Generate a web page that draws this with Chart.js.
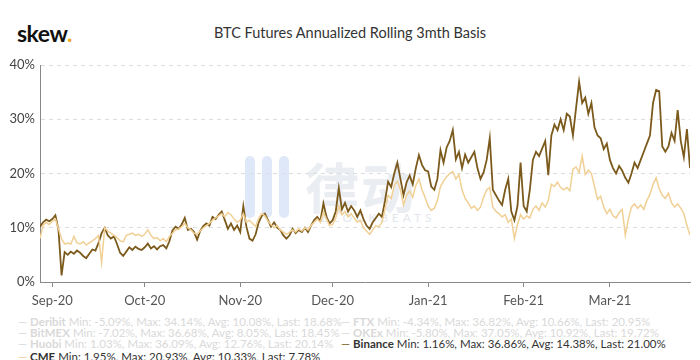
<!DOCTYPE html>
<html>
<head>
<meta charset="utf-8">
<script src="https://cdn.jsdelivr.net/npm/chart.js@4/dist/chart.umd.min.js"></script>
<style>
  body { margin: 0; width: 700px; height: 360px; overflow: hidden; background: #fff; position: relative; font-family: Lato, "Noto Sans", sans-serif; }
  #logo { position: absolute; left: 17px; top: 19px; font-size: 23px; font-weight: 700; color: #111; letter-spacing: -0.5px; }
  #logo span { color: #f0a820; }
  #title { position: absolute; left: 0; width: 700px; top: 24px; text-align: center; font-size: 14.5px; color: #333; }
  #wrap { position: absolute; left: 0; top: 0; width: 700px; height: 310px; z-index: 2; }
  #wm { position: absolute; left: 243px; top: 150px; width: 230px; height: 80px; z-index: 1; }
  #wm .bar { position: absolute; width: 10px; height: 62px; border-radius: 5px; background: #dfe8f8; top: 6px; }
  #wm .cn { position: absolute; left: 62px; top: -4px; font-family: "Noto Sans CJK SC"; font-size: 54px; font-weight: 700; color: #eaedf2; letter-spacing: 2px; }
  #wm .en { position: absolute; left: 78px; top: 60px; font-size: 12px; color: #e3e7ed; letter-spacing: 4px; }
  .row { position: absolute; white-space: nowrap; font-size: 11.5px; line-height: 12px; }
  .off { color: #d9d9d9; }
  .on { color: #333; }
  .row b { font-weight: 700; }
</style>
</head>
<body>
<div id="logo">skew<span>.</span></div>
<div id="title">BTC Futures Annualized Rolling 3mth Basis</div>
<div id="wm">
  <div class="bar" style="left:2px"></div>
  <div class="bar" style="left:19px"></div>
  <div class="bar" style="left:36px"></div>
  <div class="cn">律动</div>
  <div class="en">BLOCKBEATS</div>
</div>
<div id="wrap"><canvas id="myChart" width="700" height="310"></canvas></div>

<div class="row off" style="left:18px;top:316px">— <b>Deribit</b> Min: -5.09%, Max: 34.14%, Avg: 10.08%, Last: 18.68%</div>
<div class="row off" style="left:341px;top:316px">— <b>FTX</b> Min: -4.34%, Max: 36.82%, Avg: 10.66%, Last: 20.95%</div>
<div class="row off" style="left:18px;top:327px">— <b>BitMEX</b> Min: -7.02%, Max: 36.68%, Avg: 8.05%, Last: 18.45%</div>
<div class="row off" style="left:341px;top:327px">— <b>OKEx</b> Min: -5.80%, Max: 37.05%, Avg: 10.92%, Last: 19.72%</div>
<div class="row off" style="left:18px;top:338px">— <b>Huobi</b> Min: 1.03%, Max: 36.09%, Avg: 12.76%, Last: 20.14%</div>
<div class="row on" style="left:341px;top:338px"><span style="color:#7b5a1c">—</span> <b>Binance</b> Min: 1.16%, Max: 36.86%, Avg: 14.38%, Last: 21.00%</div>
<div class="row on" style="left:18px;top:351px"><span style="color:#f0d095">—</span> <b>CME</b> Min: 1.95%, Max: 20.93%, Avg: 10.33%, Last: 7.78%</div>

<script>
// daily values from 2020-08-28
var startDate = new Date(2020, 7, 28);

var binance = [
  10.2, 11.0, 11.5, 11.2, 11.6, 12.3, 9.6, 1.2, 5.5, 5.0,
  5.6, 5.2, 5.8, 5.4, 4.8, 4.4, 5.2, 6.0, 5.8, 7.2,
  9.0, 10.0, 8.6, 8.0, 8.4, 7.0, 5.4, 4.8, 5.6, 6.4,
  5.9, 6.5, 6.1, 5.9, 6.4, 7.1, 6.2, 6.6, 6.0, 6.6,
  6.8, 6.2, 7.5, 9.5, 10.2, 9.8, 10.6, 11.8, 9.6, 9.8,
  9.2, 7.8, 9.4, 10.3, 10.8, 10.4, 12.0, 11.6, 12.4, 13.0,
  11.4, 9.8, 10.8, 9.6, 10.4, 9.2, 14.0, 10.2, 8.0, 7.6,
  8.8, 11.0, 12.2, 12.6, 11.4, 10.2, 11.0, 10.0, 9.6, 8.6,
  8.0, 8.6, 9.8, 9.0, 9.6, 9.2, 10.0, 9.2, 10.4, 11.4,
  12.0, 11.2, 14.5, 12.0, 10.8, 11.4, 13.0, 17.3, 13.4, 14.6,
  13.0, 14.0, 13.2, 12.0, 13.2, 11.6, 10.4, 9.8, 11.0, 11.8,
  12.6, 12.0, 15.0, 18.5, 17.5, 20.0, 22.0, 19.0, 16.0, 18.4,
  19.6, 18.0, 21.0, 23.4, 21.6, 20.6, 20.4, 17.6, 17.0, 19.0,
  24.3, 22.0, 24.8, 26.0, 28.0, 22.6, 24.0, 21.0, 23.5, 22.0,
  23.0, 24.0, 21.0, 19.0, 20.2, 22.5, 26.5, 17.0, 16.0, 15.0,
  14.2, 17.0, 19.0, 13.0, 11.4, 14.0, 22.0, 14.0, 13.0, 17.0,
  22.5, 24.0, 23.2, 24.6, 26.0, 19.7, 27.0, 29.0, 28.0, 30.0,
  28.0, 31.0, 30.5, 27.0, 32.0, 36.9, 33.0, 34.0, 31.0, 33.0,
  28.5, 27.0, 26.5, 24.5, 25.5, 22.5, 21.0, 20.0, 21.4, 20.5,
  19.2, 18.3, 20.0, 22.0, 21.0, 22.5, 24.0, 25.5, 27.0, 33.0,
  35.4, 35.2, 25.0, 24.0, 25.0, 27.5, 26.0, 31.7, 26.0, 23.0,
  28.2, 21.0
];

var cme = [
  8.0, 10.4, 11.0, 10.6, 11.2, 11.6, 9.8, 8.0, 7.0, 7.2,
  7.0, 8.4, 7.2, 7.0, 7.4, 6.8, 7.2, 7.6, 8.0, 8.6,
  3.6, 10.0, 9.4, 9.0, 8.6, 8.2, 7.6, 7.4, 8.6, 8.8,
  9.0, 8.6, 8.8, 8.4, 8.8, 9.6, 8.6, 8.0, 8.2, 7.6,
  8.0, 7.4, 8.4, 9.0, 9.6, 9.8, 10.2, 10.8, 10.0, 9.6,
  9.0, 8.8, 9.4, 10.0, 10.4, 10.8, 11.4, 11.8, 12.2, 12.6,
  12.0, 12.8, 12.4, 11.6, 11.0, 11.4, 12.6, 11.0, 11.4, 10.8,
  10.2, 11.8, 12.6, 12.2, 11.2, 10.6, 10.0, 10.4, 9.6, 9.2,
  8.8, 9.2, 9.6, 9.2, 9.8, 9.4, 10.0, 9.6, 10.4, 11.0,
  11.6, 11.0, 12.8, 11.6, 10.4, 10.6, 11.8, 14.0, 12.4, 13.0,
  12.0, 12.6, 11.8, 11.0, 11.4, 10.0, 9.4, 8.8, 9.6, 10.4,
  10.2, 11.0, 13.4, 16.0, 15.4, 17.8, 18.6, 17.0, 14.2, 16.0,
  16.8, 15.6, 17.8, 19.0, 17.0, 15.6, 14.0, 13.2, 13.6, 15.0,
  17.6, 18.6, 19.4, 20.0, 20.4, 19.0, 19.8, 17.0, 15.4, 14.6,
  13.6, 14.0, 13.2, 13.8, 15.6, 17.0, 17.4, 13.8, 13.0, 12.6,
  12.0, 12.4, 11.0, 11.6, 8.0, 10.6, 12.4, 11.6, 12.2, 11.8,
  13.4, 14.0, 13.2, 14.6, 13.8, 15.0, 18.0, 17.6, 18.4, 17.4,
  17.0, 17.4, 16.8, 20.8, 21.2, 20.2, 23.2, 19.8, 20.6, 20.0,
  17.6, 15.2, 15.8, 13.8, 12.6, 13.4, 12.2, 11.8, 12.8, 13.4,
  8.6, 11.6, 13.8, 14.4, 13.6, 14.2, 13.4, 15.0, 16.2, 18.0,
  19.2, 17.2, 16.0, 15.4, 16.4, 14.6, 13.8, 14.4, 13.6, 12.6,
  10.4, 8.6
];

var monthNames = ['Jan', 'Feb', 'Mar', 'Apr', 'May', 'Jun', 'Jul', 'Aug', 'Sep', 'Oct', 'Nov', 'Dec'];
var yTicks = [0, 10, 20, 30, 40];

// day offsets of each month start in range
var monthTicks = [];
var monthLabels = {};
for (var i = 0; i < binance.length; i++) {
  var d = new Date(startDate.getFullYear(), startDate.getMonth(), startDate.getDate() + i);
  if (d.getDate() === 1) {
    monthTicks.push(i);
    monthLabels[i] = monthNames[d.getMonth()] + '-' + String(d.getFullYear()).slice(2);
  }
}

function toPoints(arr) {
  var pts = [];
  for (var i = 0; i < arr.length; i++) pts.push({ x: i, y: arr[i] });
  return pts;
}

Chart.defaults.font.family = 'Lato, "Noto Sans", sans-serif';
Chart.defaults.color = '#555';

var ctx = document.getElementById('myChart');
var chart = new Chart(ctx, {
  type: 'line',
  data: {
    datasets: [{
      label: 'CME',
      data: toPoints(cme),
      borderColor: '#f0d095',
      borderWidth: 1.5,
      pointRadius: 0,
      tension: 0
    }, {
      label: 'Binance',
      data: toPoints(binance),
      borderColor: '#7b5a1c',
      borderWidth: 1.8,
      pointRadius: 0,
      tension: 0
    }]
  },
  options: {
    responsive: false,
    animation: false,
    layout: { padding: { top: 65, right: 10, left: 0, bottom: 0 } },
    plugins: {
      legend: { display: false },
      tooltip: { enabled: false }
    },
    scales: {
      x: {
        type: 'linear',
        min: 0,
        max: binance.length - 1,
        afterBuildTicks: function (scale) {
          scale.ticks = monthTicks.map(function (v) { return { value: v }; });
        },
        afterFit: function (scale) { scale.height = 28; },
        ticks: {
          autoSkip: false,
          maxRotation: 0,
          padding: 6,
          font: { size: 13 },
          color: '#555',
          callback: function (value) { return monthLabels[value]; }
        },
        grid: { drawOnChartArea: false, drawTicks: true, tickLength: 5, color: '#888' },
        border: { color: '#888', width: 1 }
      },
      y: {
        min: 0,
        max: 40,
        afterBuildTicks: function (scale) {
          scale.ticks = yTicks.map(function (v) { return { value: v }; });
        },
        afterFit: function (scale) { scale.width = 40; },
        ticks: {
          padding: 5,
          font: { size: 13 },
          color: '#444',
          callback: function (value) { return value + '%'; }
        },
        grid: { color: '#dddddd', drawTicks: false },
        border: { color: '#888', width: 1, dash: [4, 4] }
      }
    }
  }
});
</script>
</body>
</html>
